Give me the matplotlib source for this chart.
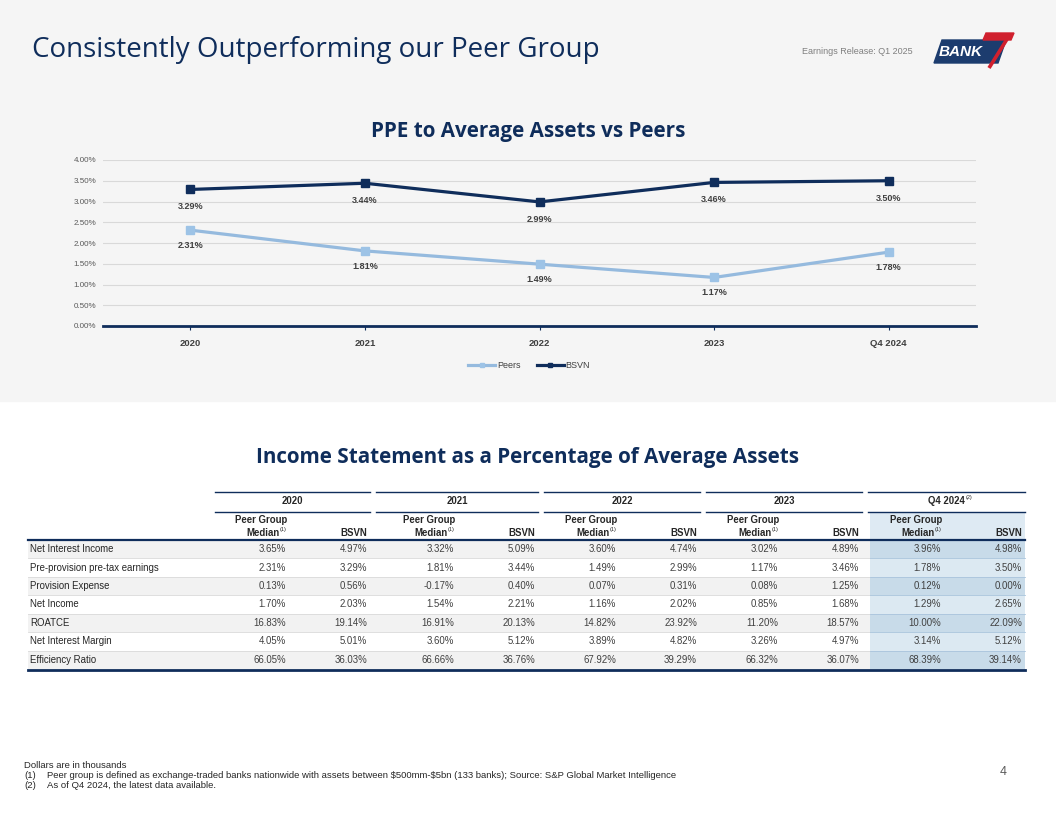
import matplotlib
matplotlib.use("Agg")
import matplotlib.pyplot as plt
from matplotlib.patches import Rectangle, Polygon

# chart data
years = ["2020", "2021", "2022", "2023", "Q4 2024"]
peers = [2.31, 1.81, 1.49, 1.17, 1.78]
bsvn = [3.29, 3.44, 2.99, 3.46, 3.50]

# table data
groups = ["2020", "2021", "2022", "2023", "Q4 2024"]
row_labels = ["Net Interest Income", "Pre-provision pre-tax earnings", "Provision Expense",
              "Net Income", "ROATCE", "Net Interest Margin", "Efficiency Ratio"]
peer_vals = [
    ["3.65%", "3.32%", "3.60%", "3.02%", "3.96%"],
    ["2.31%", "1.81%", "1.49%", "1.17%", "1.78%"],
    ["0.13%", "-0.17%", "0.07%", "0.08%", "0.12%"],
    ["1.70%", "1.54%", "1.16%", "0.85%", "1.29%"],
    ["16.83%", "16.91%", "14.82%", "11.20%", "10.00%"],
    ["4.05%", "3.60%", "3.89%", "3.26%", "3.14%"],
    ["66.05%", "66.66%", "67.92%", "66.32%", "68.39%"],
]
bsvn_vals = [
    ["4.97%", "5.09%", "4.74%", "4.89%", "4.98%"],
    ["3.29%", "3.44%", "2.99%", "3.46%", "3.50%"],
    ["0.56%", "0.40%", "0.31%", "1.25%", "0.00%"],
    ["2.03%", "2.21%", "2.02%", "1.68%", "2.65%"],
    ["19.14%", "20.13%", "23.92%", "18.57%", "22.09%"],
    ["5.01%", "5.12%", "4.82%", "4.97%", "5.12%"],
    ["36.03%", "36.76%", "39.29%", "36.07%", "39.14%"],
]

NAVY = "#0f2d5b"
LIGHT = "#95bade"
ARIAL = "Liberation Sans"
OPEN = "Open Sans"

W, H = 1056, 816
fig = plt.figure(figsize=(W / 100, H / 100), dpi=100)
fig.patch.set_facecolor("white")

# slide canvas in pixel coords
cv = fig.add_axes([0, 0, 1, 1])
cv.set_xlim(0, W)
cv.set_ylim(H, 0)
cv.axis("off")
cv.add_patch(Rectangle((0, 0), W, 401, color="#f5f5f5", zorder=0))

cv.text(32, 50, "Consistently Outperforming our Peer Group", family=OPEN, fontsize=20,
        color=NAVY, va="center", ha="left")
cv.text(913, 52, "Earnings Release: Q1 2025", family=ARIAL, fontsize=6.5, color="#7f7f7f",
        va="center", ha="right")

# logo
cv.add_patch(Polygon([(934, 63), (942, 40), (1006, 40), (998, 63)], closed=True,
                     color="#1c3c6e", zorder=2))
cv.add_patch(Polygon([(986, 33), (1014, 33), (1011, 40), (983, 40)], closed=True,
                     color="#d0202e", zorder=3))
cv.plot([1009, 989], [36, 68], color="#d0202e", lw=2.6, zorder=4, solid_capstyle="butt")
cv.text(961, 52, "BANK", family=ARIAL, fontsize=11, fontweight="bold", fontstyle="italic",
        color="white", ha="center", va="center", zorder=5)

# chart title
cv.text(528, 132, "PPE to Average Assets vs Peers", family=OPEN, fontsize=14.9,
        fontweight="bold", color=NAVY, ha="center", va="center")

# line chart
ax = fig.add_axes([103 / W, 1 - 326 / H, (976 - 103) / W, (326 - 160) / H])
ax.set_facecolor("none")
x = list(range(len(years)))
ax.plot(x, peers, color=LIGHT, lw=2.3, marker="s", ms=5.5, mfc="#9dc3e6", mec="#9dc3e6",
        label="Peers", zorder=3)
ax.plot(x, bsvn, color=NAVY, lw=2.3, marker="s", ms=5.5, mfc=NAVY, mec=NAVY,
        label="BSVN", zorder=3)
for xi, v in zip(x, peers):
    ax.annotate(f"{v:.2f}%", (xi, v), xytext=(0, -11), textcoords="offset points",
                ha="center", va="center", family=ARIAL, fontsize=6.5, fontweight="bold",
                color="#404040")
for xi, v in zip(x, bsvn):
    ax.annotate(f"{v:.2f}%", (xi, v), xytext=(0, -12.5), textcoords="offset points",
                ha="center", va="center", family=ARIAL, fontsize=6.5, fontweight="bold",
                color="#404040")
ax.set_xlim(-0.5, len(years) - 0.5)
ax.set_ylim(0, 4)
ax.set_yticks([0, 0.5, 1, 1.5, 2, 2.5, 3, 3.5, 4])
ax.set_yticklabels([f"{t:.2f}%" for t in ax.get_yticks()], family=ARIAL, fontsize=5.8,
                   color="#595959")
ax.set_xticks(x)
ax.set_xticklabels(years, family=ARIAL, fontsize=6.8, fontweight="bold", color="#404040")
ax.tick_params(axis="y", length=0, pad=5)
ax.tick_params(axis="x", length=3, width=0.8, color=NAVY, pad=6)
ax.grid(axis="y", color="#d9d9d9", lw=0.8)
ax.set_axisbelow(True)
for s in ["top", "right", "left"]:
    ax.spines[s].set_visible(False)
ax.spines["bottom"].set_color(NAVY)
ax.spines["bottom"].set_linewidth(2)
leg = ax.legend(loc="center", bbox_to_anchor=(529 / W, 1 - 366 / H), bbox_transform=fig.transFigure,
                ncol=2, frameon=False, handlelength=3, handletextpad=0.2, columnspacing=1.8,
                markerscale=0.6, prop={"family": ARIAL, "size": 6.5})
for t in leg.get_texts():
    t.set_color("#404040")

# table
cv.text(528, 457, "Income Statement as a Percentage of Average Assets", family=OPEN,
        fontsize=14.9, fontweight="bold", color=NAVY, ha="center", va="center")

g_left = [215, 376, 544, 706, 868]
g_right = [370, 538, 700, 862, 1025]
tab_left = 28
row_top = 540
row_h = (669 - 540) / 7
fs = 6.9

# Q4 column shading
cv.add_patch(Rectangle((g_left[-1] + 2, 512), g_right[-1] - g_left[-1] - 2, 28,
                       color="#deeaf3", lw=0, zorder=1))
for i in range(len(row_labels)):
    y0 = row_top + i * row_h
    if i % 2 == 0:
        cv.add_patch(Rectangle((tab_left, y0), g_left[-1] + 2 - tab_left, row_h,
                               color="#f2f2f2", lw=0, zorder=1))
        qc = "#c8dbe9"
    else:
        qc = "#dce9f2"
    cv.add_patch(Rectangle((g_left[-1] + 2, y0), g_right[-1] - g_left[-1] - 2, row_h,
                           color=qc, lw=0, zorder=1))
    if i > 0:
        cv.plot([tab_left, g_left[-1] + 2], [y0, y0], color="#d9d9d9", lw=0.6, zorder=2)
        cv.plot([g_left[-1] + 2, g_right[-1]], [y0, y0], color="#a9c4dc", lw=0.6, zorder=2)
    yc = y0 + row_h / 2
    cv.text(tab_left + 2, yc, row_labels[i], family=ARIAL, fontsize=fs, color="#262626",
            ha="left", va="center", zorder=3)
    for j in range(len(groups)):
        cv.text(g_right[j] - 84, yc, peer_vals[i][j], family=ARIAL, fontsize=fs,
                color="#404040", ha="right", va="center", zorder=3)
        cv.text(g_right[j] - 3, yc, bsvn_vals[i][j], family=ARIAL, fontsize=fs,
                color="#404040", ha="right", va="center", zorder=3)

for j, g in enumerate(groups):
    cv.plot([g_left[j], g_right[j]], [492, 492], color=NAVY, lw=1, zorder=3)
    cv.plot([g_left[j], g_right[j]], [512, 512], color=NAVY, lw=1, zorder=3)
    cx = (g_left[j] + g_right[j]) / 2
    cv.text(cx, 501, g, family=ARIAL, fontsize=fs, fontweight="bold", color="#262626",
            ha="center", va="center", zorder=3)
    if j == len(groups) - 1:
        cv.text(cx + 19, 497, "(2)", family=ARIAL, fontsize=4, color="#262626",
                ha="left", va="center", zorder=3)
    pr = g_right[j] - 84
    cv.text(pr + 1, 520, "Peer Group", family=ARIAL, fontsize=fs, fontweight="bold",
            color="#262626", ha="right", va="center", zorder=3)
    cv.text(pr - 6, 533, "Median", family=ARIAL, fontsize=fs, fontweight="bold",
            color="#262626", ha="right", va="center", zorder=3)
    cv.text(pr - 6, 529, "(1)", family=ARIAL, fontsize=4, color="#262626",
            ha="left", va="center", zorder=3)
    cv.text(g_right[j] - 3, 533, "BSVN", family=ARIAL, fontsize=fs, fontweight="bold",
            color="#262626", ha="right", va="center", zorder=3)

cv.plot([tab_left, g_right[-1]], [539.5, 539.5], color=NAVY, lw=1.6, zorder=4)
cv.plot([tab_left, g_right[-1]], [669.5, 669.5], color=NAVY, lw=2, zorder=4)

# footnotes
fn = dict(family=ARIAL, fontsize=6.8, color="#262626", va="center", ha="left")
cv.text(24, 765, "Dollars are in thousands", **fn)
cv.text(24, 776, "(1)", **fn)
cv.text(47, 776, "Peer group is defined as exchange-traded banks nationwide with assets between "
        "\\$500mm-\\$5bn (133 banks); Source: S&P Global Market Intelligence", **fn)
cv.text(24, 786, "(2)", **fn)
cv.text(47, 786, "As of Q4 2024, the latest data available.", **fn)
cv.text(1003, 772, "4", family=ARIAL, fontsize=9, color="#595959", ha="center", va="center")

fig.savefig("out.png", dpi=100, facecolor=fig.get_facecolor())
